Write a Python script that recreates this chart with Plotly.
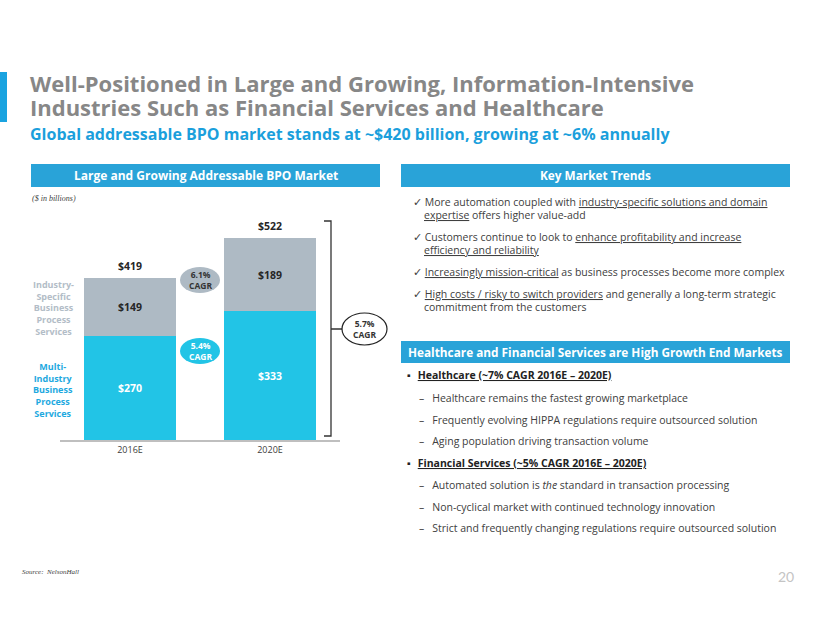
import plotly.graph_objects as go

W, H = 822, 635

# ---------------- data ----------------
categories = ["2016E", "2020E"]
multi_industry = [270, 333]
industry_specific = [149, 189]
totals = [419, 522]
cagr_specific = "6.1%"
cagr_multi = "5.4%"
cagr_total = "5.7%"

title_lines = ["Well-Positioned in Large and Growing, Information-Intensive",
               "Industries Such as Financial Services and Healthcare"]
subtitle = "Global addressable BPO market stands at ~$420 billion, growing at ~6% annually"

trends = [
    ["More automation coupled with <u>industry-specific solutions and domain</u>",
     "<u>expertise</u> offers higher value-add"],
    ["Customers continue to look to <u>enhance profitability and increase</u>",
     "<u>efficiency and reliability</u>"],
    ["<u>Increasingly mission-critical</u> as business processes become more complex"],
    ["<u>High costs / risky to switch providers</u> and generally a long-term strategic",
     "commitment from the customers"],
]
markets = [
    ("Healthcare (~7% CAGR 2016E \u2013 2020E)", [
        "Healthcare remains the fastest growing marketplace",
        "Frequently evolving HIPPA regulations require outsourced solution",
        "Aging population driving transaction volume"]),
    ("Financial Services (~5% CAGR 2016E \u2013 2020E)", [
        "Automated solution is <i>the</i> standard in transaction processing",
        "Non-cyclical market with continued technology innovation",
        "Strict and frequently changing regulations require outsourced solution"]),
]

# ---------------- style ----------------
GRAY_BAR = "#aebac4"
CYAN_BAR = "#22c4e6"
HEADER = "#29a3d8"
TITLE_GRAY = "#878787"
SUB_BLUE = "#1b9fdc"
TXT = "#404040"
FONT = "Open Sans"


def X(p):
    return p / W


def Y(p):
    return 1 - p / H


fig = go.Figure()
fig.add_trace(go.Bar(
    x=categories, y=multi_industry, marker=dict(color=CYAN_BAR, line=dict(width=0)),
    text=[f"${v}" for v in multi_industry], textposition="inside",
    insidetextanchor="middle", textangle=0,
    textfont=dict(family=FONT, size=10.5, color="white", weight="bold"),
    hoverinfo="skip"))
fig.add_trace(go.Bar(
    x=categories, y=industry_specific, marker=dict(color=GRAY_BAR, line=dict(width=0)),
    text=[f"${v}" for v in industry_specific], textposition="inside",
    insidetextanchor="middle", textangle=0,
    textfont=dict(family=FONT, size=10.5, color="#262626", weight="bold"),
    hoverinfo="skip"))

ann = []
shapes = []


def text(px, py, s, size=11, color=TXT, anchor="left", weight="normal", family=FONT, style="normal",
         yanchor="middle"):
    ann.append(dict(x=X(px), y=Y(py), xref="paper", yref="paper", text=s, showarrow=False,
                    xanchor=anchor, yanchor=yanchor, align=anchor if anchor != "middle" else "center",
                    borderpad=0,
                    font=dict(size=size, color=color, family=family, weight=weight, style=style)))


def rect(x0, y0, x1, y1, color):
    shapes.append(dict(type="rect", xref="paper", yref="paper", x0=X(x0), x1=X(x1), y0=Y(y1), y1=Y(y0),
                       fillcolor=color, line=dict(width=0), layer="below"))


# totals on top of bars
for c, t in zip(categories, totals):
    ann.append(dict(x=c, y=t, xref="x", yref="y", text=f"${t}", showarrow=False, yanchor="bottom",
                    yshift=3, font=dict(size=10.5, color="#262626", family=FONT, weight="bold")))

# accent bar + titles (one text block; base size sets the 24px line pitch)
rect(0, 72, 7, 122, "#1aa3e0")
title_html = "<br>".join(
    [f'<span style="font-size:22px">{t}</span>' for t in title_lines]
    + [f'<span style="font-size:16px;color:{SUB_BLUE}">{subtitle}</span>'])
text(29, 67, title_html, 18.4, TITLE_GRAY, weight="bold", yanchor="top")

# left panel
rect(31, 164, 380, 187, HEADER)
text(205.5, 175.5, "Large and Growing Addressable BPO Market", 12, "white", anchor="center", weight="bold")
text(31, 198, "($ in billions)", 8, TXT, family="Liberation Serif", style="italic")

text(53, 308, "<br>".join(["Industry-", "Specific", "Business", "Process", "Services"]), 9,
     "#b3bdc7", anchor="center", weight="bold")
text(53, 390, "<br>".join(["Multi-", "Industry", "Business", "Process", "Services"]), 9,
     "#1ea9e0", anchor="center", weight="bold")

# CAGR ellipses
shapes.append(dict(type="circle", xref="paper", yref="paper", x0=X(180), x1=X(220), y0=Y(293), y1=Y(267),
                   fillcolor=GRAY_BAR, line=dict(width=0)))
text(200, 280, f"{cagr_specific}<br>CAGR", 8.5, "#333333", anchor="center", weight="bold")
shapes.append(dict(type="circle", xref="paper", yref="paper", x0=X(180), x1=X(220), y0=Y(364), y1=Y(338),
                   fillcolor=CYAN_BAR, line=dict(width=0)))
text(200, 351, f"{cagr_multi}<br>CAGR", 8.5, "white", anchor="center", weight="bold")

# bracket
bx = 331
path = (f"M {X(324)},{Y(221)} L {X(bx)},{Y(221)} L {X(bx)},{Y(436)} L {X(324)},{Y(436)} "
        f"M {X(bx)},{Y(329)} L {X(343)},{Y(329)}")
shapes.append(dict(type="path", xref="paper", yref="paper", path=path, line=dict(color="#333333", width=1.3)))
shapes.append(dict(type="circle", xref="paper", yref="paper", x0=X(342), x1=X(387), y0=Y(345), y1=Y(313),
                   fillcolor="white", line=dict(color="#222222", width=1.2)))
text(364.5, 329, f"{cagr_total}<br>CAGR", 8.5, "#333333", anchor="center", weight="bold")

# right panel: key trends
rect(401, 164, 790, 187, HEADER)
text(595.5, 175.5, "Key Market Trends", 11.8, "white", anchor="center", weight="bold")
trend_y = [[202, 215], [237, 250], [272], [294, 307]]
for lines, ys in zip(trends, trend_y):
    text(412, ys[0], "\u2713 " + lines[0], 10.5, TXT)
    for ln, yy in zip(lines[1:], ys[1:]):
        text(423, yy, ln, 10.5, TXT)

# right panel: end markets
rect(401, 341, 790, 363, HEADER)
text(595.5, 352, "Healthcare and Financial Services are High Growth End Markets", 11.8, "white",
     anchor="center", weight="bold")
head_y = [375, 463]
sub_y = [[398, 420, 441], [485, 507, 528]]
for (hd, subs), hy, sys in zip(markets, head_y, sub_y):
    text(406, hy, "\u25aa\u2002\u2009" + f"<u>{hd}</u>", 10.5, "#222222", weight="bold")
    for s, yy in zip(subs, sys):
        text(418, yy, "\u2013\u2002 " + s, 10.5, TXT)

# footer
text(21, 572, "Source:  NelsonHall", 7, TXT, style="italic", family="Liberation Sans Narrow")
text(795, 576, "20", 14, "#c4c4c4", anchor="right", family="Lato", weight="normal")

fig.update_layout(
    width=W, height=H, margin=dict(l=0, r=0, t=0, b=0),
    paper_bgcolor="white", plot_bgcolor="white",
    barmode="stack", bargap=0.336, showlegend=False,
    xaxis=dict(domain=[X(60), X(340)], showline=True, linecolor="#bfbfbf", linewidth=1.5,
               ticks="", tickfont=dict(size=9, color=TXT, family=FONT), showgrid=False,
               fixedrange=True),
    yaxis=dict(domain=[Y(440), Y(208)], range=[0, 600], visible=False, showgrid=False, fixedrange=True),
    annotations=ann, shapes=shapes,
)

fig.write_html("out.html", config={"displayModeBar": False},
               post_script="document.body.style.margin='0';document.body.style.padding='0';")
